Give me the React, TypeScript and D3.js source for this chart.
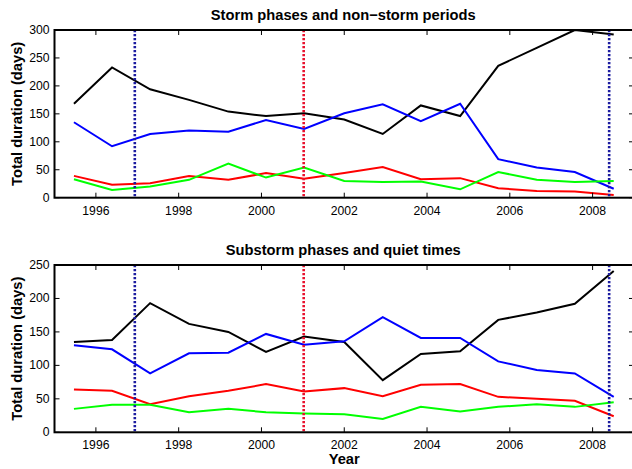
import React from "react";
import * as d3 from "d3";

const years = [1995.47, 1996.39, 1997.31, 1998.25, 1999.2, 2000.11, 2001.03, 2002.0, 2002.93, 2003.85, 2004.8, 2005.72, 2006.65, 2007.57, 2008.51];

const stormBlack = [168, 233, 194, 175, 154, 146, 151, 140, 114, 165, 146, 236, 268, 300, 292];
const stormBlue = [135, 92, 114, 120, 118, 139, 123, 151, 167, 137, 168, 69, 54, 46, 16];
const stormRed = [39, 23, 26, 39, 32, 44, 34, 44, 55, 33, 35, 17, 12, 11, 5];
const stormGreen = [33, 14, 20, 32, 61, 36, 54, 30, 28, 29, 15, 46, 32, 28, 30];

const subBlack = [135, 138, 193, 162, 150, 120, 143, 135, 78, 117, 121, 168, 179, 192, 241];
const subBlue = [130, 124, 88, 118, 119, 147, 131, 136, 172, 141, 141, 106, 93, 88, 53];
const subRed = [64, 62, 42, 54, 62, 72, 61, 66, 54, 71, 72, 53, 50, 47, 24];
const subGreen = [35, 41, 41, 30, 35, 30, 28, 27, 20, 38, 31, 38, 42, 38, 45];

const xTicks = [1996, 1998, 2000, 2002, 2004, 2006, 2008];
const stormYTicks = [0, 50, 100, 150, 200, 250, 300];
const subYTicks = [0, 50, 100, 150, 200, 250];
const markerYears = [1996.94, 2001.02, 2008.4];
const markerColors = ["#1c1ca0", "#e8112d", "#1c1ca0"];

const W = 632;
const H = 469;
const xLeft = 54.5;
const xRight = 634;
const font = "'Liberation Sans', Arial, Helvetica, sans-serif";
const boldSize = 14.7;

type PanelProps = {
  top: number;
  bottom: number;
  yMax: number;
  yTicks: number[];
  title: string;
  series: { values: number[]; color: string }[];
  showXLabel: boolean;
};

function Panel({ top, bottom, yMax, yTicks, title, series, showXLabel }: PanelProps) {
  const x = d3.scaleLinear().domain([1995, 2009]).range([xLeft, xRight]);
  const y = d3.scaleLinear().domain([0, yMax]).range([bottom, top]);
  const line = d3
    .line<number>()
    .x((_, i) => x(years[i]))
    .y((v) => y(v));
  const tl = 5;
  return (
    <g>
      <text x={(xLeft + xRight) / 2 - 1} y={top - 10} textAnchor="middle" fontFamily={font} fontWeight="bold" fontSize={boldSize}>
        {title}
      </text>
      {series.map((s, i) => (
        <path key={i} d={line(s.values) || ""} fill="none" stroke={s.color} strokeWidth={2} strokeLinejoin="miter" />
      ))}
      {markerYears.map((yr, i) => (
        <line key={i} x1={x(yr)} x2={x(yr)} y1={top} y2={bottom} stroke={markerColors[i]} strokeWidth={2.6} strokeDasharray="2.2,1.8" />
      ))}
      {xTicks.map((t) => (
        <g key={t}>
          <line x1={x(t)} x2={x(t)} y1={bottom} y2={bottom - tl} stroke="#000" strokeWidth={1} />
          <line x1={x(t)} x2={x(t)} y1={top} y2={top + tl} stroke="#000" strokeWidth={1} />
          <text x={x(t)} y={bottom + 17} textAnchor="middle" fontFamily={font} fontSize={12.2}>
            {t}
          </text>
        </g>
      ))}
      {yTicks.map((t) => (
        <g key={t}>
          <line x1={xLeft} x2={xLeft + tl} y1={y(t)} y2={y(t)} stroke="#000" strokeWidth={1} />
          <line x1={xRight} x2={xRight - tl} y1={y(t)} y2={y(t)} stroke="#000" strokeWidth={1} />
          <text x={xLeft - 5} y={y(t) + 4} textAnchor="end" fontFamily={font} fontSize={12.2}>
            {t}
          </text>
        </g>
      ))}
      <rect x={xLeft} y={top} width={xRight - xLeft} height={bottom - top} fill="none" stroke="#000" strokeWidth={2} />
      <text
        transform={`translate(${22},${(top + bottom) / 2}) rotate(-90)`}
        textAnchor="middle"
        fontFamily={font}
        fontWeight="bold"
        fontSize={boldSize}
      >
        Total duration (days)
      </text>
      {showXLabel && (
        <text x={(xLeft + xRight) / 2} y={bottom + 32} textAnchor="middle" fontFamily={font} fontWeight="bold" fontSize={boldSize}>
          Year
        </text>
      )}
    </g>
  );
}

export default function App() {
  return (
    <svg width={W} height={H} style={{ position: "absolute", left: 0, top: 0, background: "#fff" }}>
      <rect width={W} height={H} fill="#fff" />
      <Panel
        top={30}
        bottom={197.7}
        yMax={300}
        yTicks={stormYTicks}
        title="Storm phases and non−storm periods"
        series={[
          { values: stormBlack, color: "#000000" },
          { values: stormBlue, color: "#0000ff" },
          { values: stormRed, color: "#ff0000" },
          { values: stormGreen, color: "#00ff00" },
        ]}
        showXLabel={false}
      />
      <Panel
        top={265}
        bottom={432.3}
        yMax={250}
        yTicks={subYTicks}
        title="Substorm phases and quiet times"
        series={[
          { values: subBlack, color: "#000000" },
          { values: subBlue, color: "#0000ff" },
          { values: subRed, color: "#ff0000" },
          { values: subGreen, color: "#00ff00" },
        ]}
        showXLabel={true}
      />
    </svg>
  );
}
